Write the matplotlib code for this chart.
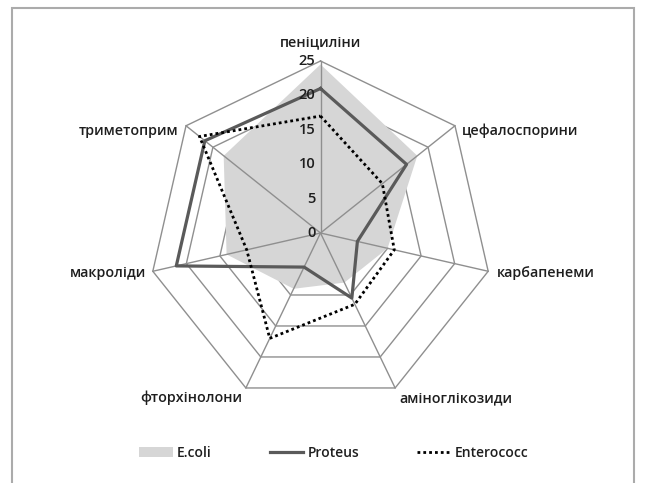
import numpy as np
import matplotlib
matplotlib.use("Agg")
import matplotlib.pyplot as plt
from matplotlib.patches import Rectangle, Patch

plt.rcParams['font.family'] = ['Open Sans', 'DejaVu Sans']

categories = ['пеніциліни', 'цефалоспорини', 'карбапенеми', 'аміноглікозиди',
              'фторхінолони', 'макроліди', 'триметоприм']
ecoli = [24.5, 18, 10, 8, 9, 14, 18]
proteus = [21, 16, 5.5, 10.5, 5.5, 21.5, 21.5]
enterococc = [17, 11.5, 11, 11.5, 17, 11, 22.5]
r_ticks = [0, 5, 10, 15, 20, 25]

# label placement: (offset x px, offset y px, ha, va)
label_pos = [(0, 19, 'center', 'center'),
             (7, -5, 'left', 'center'),
             (9, -2, 'left', 'center'),
             (4, -3, 'left', 'top'),
             (-4, -3, 'right', 'top'),
             (-7, -2, 'right', 'center'),
             (-8, -5, 'right', 'center')]

n = len(categories)
angles = np.linspace(0, 2 * np.pi, n, endpoint=False)
closed = np.append(angles, angles[0])


def close(vals):
    return np.append(vals, vals[0])


fig = plt.figure(figsize=(6.46, 4.83), dpi=100)
fig.patch.set_facecolor('white')

# outer chart frame
fig.patches.append(Rectangle((12 / 646, -0.05), 622 / 646, 1.05 - 8 / 483,
                             transform=fig.transFigure, fill=False,
                             edgecolor='#ababab', linewidth=1.5))

ax = fig.add_axes([148.5 / 646, 78 / 483, 344 / 646, 344 / 483], polar=True)
ax.set_theta_offset(np.pi / 2)
ax.set_theta_direction(-1)
ax.set_ylim(0, 25)
ax.set_xticks([])
ax.set_yticks([])
ax.grid(False)
ax.spines['polar'].set_visible(False)
ax.patch.set_visible(False)

grid_c = '#8f8f8f'
for r in r_ticks[1:]:
    ax.plot(closed, [r] * (n + 1), color=grid_c, lw=1.0, zorder=1, clip_on=False)

ax.fill(closed, close(ecoli), color='#d6d6d6', lw=0, zorder=2, label='E.coli')

for a in angles:
    ax.plot([a, a], [0, r_ticks[-1]], color=grid_c, lw=1.0, zorder=3, clip_on=False)

ax.plot(closed, close(proteus), color='#5a5a5a', lw=2.3, zorder=4,
        label='Proteus', clip_on=False)
ax.plot(closed, close(enterococc), color='black', lw=2.0,
        linestyle=(0, (1, 1.1)), zorder=5, label='Enterococc', clip_on=False)

txt = dict(color='#1e1e1e', fontweight='semibold')
for r in r_ticks:
    ax.annotate(str(r), xy=(0, r), xytext=(-5, 0), textcoords='offset pixels',
                ha='right', va='center', fontsize=10.5, zorder=6, **txt)

for a, name, (dx, dy, ha, va) in zip(angles, categories, label_pos):
    ax.annotate(name, xy=(a, 25), xytext=(dx, dy), textcoords='offset pixels',
                ha=ha, va=va, fontsize=10.3, annotation_clip=False, **txt)

handles = [Patch(facecolor='#d6d6d6', edgecolor='none'),
           plt.Line2D([], [], color='#5a5a5a', lw=2.3),
           plt.Line2D([], [], color='black', lw=2.0, linestyle=(0, (1, 1.1)))]
leg = fig.legend(handles, ['E.coli', 'Proteus', 'Enterococc'], loc='center',
                 bbox_to_anchor=(334 / 646, 30 / 483), ncol=3, frameon=False,
                 fontsize=10, handlelength=2.4, handletextpad=0.3,
                 columnspacing=4.2, labelcolor='#1e1e1e')
for t in leg.get_texts():
    t.set_fontweight('semibold')

fig.savefig('out.png', dpi=100)
